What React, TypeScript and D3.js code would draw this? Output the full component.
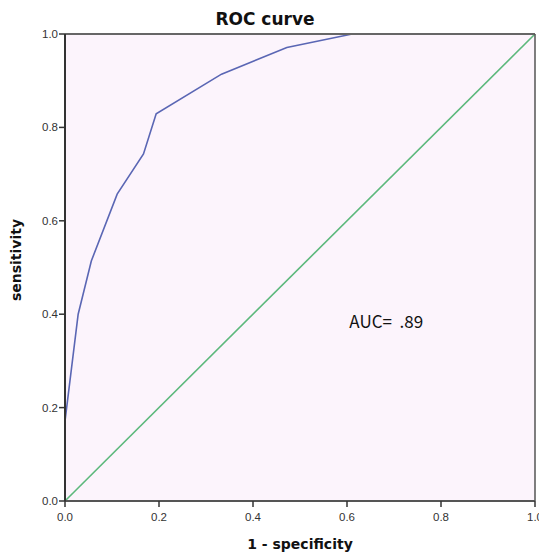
import React from "react";
import * as d3 from "d3";

const fpr = [0, 0, 0.028, 0.056, 0.111, 0.167, 0.194, 0.333, 0.472, 0.611, 1.0];
const tpr = [0, 0.171, 0.4, 0.514, 0.657, 0.743, 0.829, 0.914, 0.971, 1.0, 1.0];
const refLine = [0, 1];
const ticks = [0, 0.2, 0.4, 0.6, 0.8, 1.0];
const title = "ROC curve";
const xLabel = "1 - specificity";
const yLabel = "sensitivity";
const aucText = "AUC=\u00a0\u00a0.89";

export default function App() {
  const W = 539, H = 557;
  const left = 65, right = 535, top = 34, bottom = 501;
  const x = d3.scaleLinear().domain([0, 1]).range([left, right]);
  const y = d3.scaleLinear().domain([0, 1]).range([bottom, top]);
  const pts = fpr.map((f, i) => [f, tpr[i]] as [number, number]);
  const line = d3.line<[number, number]>().x(d => x(d[0])).y(d => y(d[1]));
  const refPts = refLine.map(v => [v, v] as [number, number]);
  const tickFont = { fontFamily: "Arial, 'Liberation Sans', sans-serif", fontSize: 11.5, fill: "#333" };
  const boldFont = "'DejaVu Sans', Verdana, sans-serif";
  return (
    <svg width={W} height={H} style={{ position: "absolute", left: 0, top: 0 }}>
      <rect x={0} y={0} width={W} height={H} fill="#fff" />
      <rect x={left} y={top} width={right - left} height={bottom - top} fill="#fcf4fc" />
      <path d={line(refPts) || ""} fill="none" stroke="#5cb87c" strokeWidth={1.6} />
      <path d={line(pts) || ""} fill="none" stroke="#5a66b4" strokeWidth={1.6} />
      <line x1={left} x2={right} y1={top} y2={top} stroke="#666" strokeWidth={2} />
      <line x1={right} x2={right} y1={top} y2={bottom} stroke="#555" strokeWidth={1.5} />
      <line x1={left} x2={right} y1={bottom} y2={bottom} stroke="#555" strokeWidth={2} />
      <line x1={left} x2={left} y1={top} y2={bottom} stroke="#333" strokeWidth={2} />
      {ticks.map(t => (
        <g key={"y" + t}>
          <line x1={left - 6} x2={left} y1={y(t)} y2={y(t)} stroke="#333" strokeWidth={1.5} />
          <text x={left - 7} y={y(t)} dy="0.35em" textAnchor="end" {...tickFont}>{t.toFixed(1)}</text>
        </g>
      ))}
      {ticks.map(t => (
        <g key={"x" + t}>
          <line x1={x(t)} x2={x(t)} y1={bottom} y2={bottom + 6} stroke="#333" strokeWidth={1.5} />
          <text x={x(t)} y={bottom + 20} textAnchor="middle" {...tickFont}>{t.toFixed(1)}</text>
        </g>
      ))}
      <text x={265} y={25} textAnchor="middle" fontFamily={boldFont} fontWeight="bold" fontSize={17} fill="#111">{title}</text>
      <text x={300} y={549} textAnchor="middle" fontFamily={boldFont} fontWeight="bold" fontSize={14} fill="#111">{xLabel}</text>
      <text transform={`translate(21, ${260}) rotate(-90)`} textAnchor="middle" fontFamily={boldFont} fontWeight="bold" fontSize={14} fill="#111">{yLabel}</text>
      <text x={x(0.605)} y={y(0.37)} fontFamily="'Noto Sans CJK KR', 'Noto Sans', sans-serif" fontSize={17} fill="#111">{aucText}</text>
    </svg>
  );
}
